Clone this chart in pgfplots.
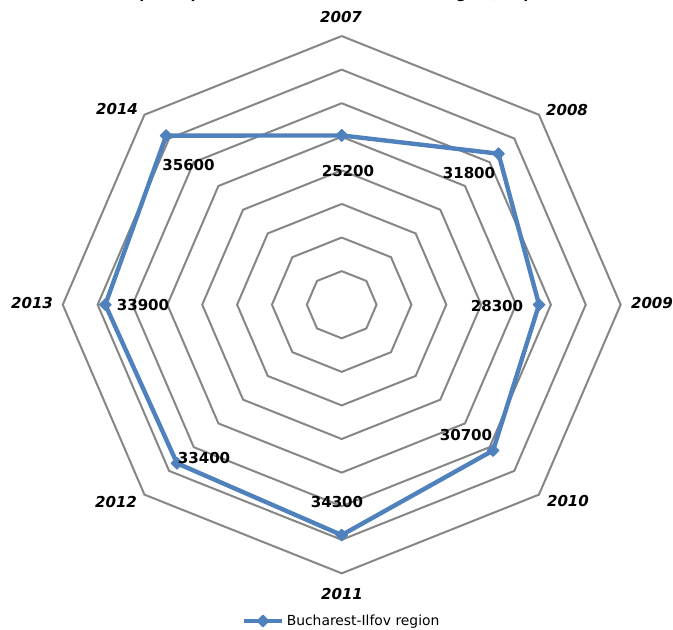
\documentclass[border=0pt]{standalone}
\usepackage{pgfplots}
\pgfplotsset{compat=1.18}
\usepackage{fontspec}
\setmainfont{DejaVu Sans}
\definecolor{series}{HTML}{4F81BD}
\definecolor{ring}{HTML}{868686}
\begin{document}
\begin{tikzpicture}
% all radii in thousands
\begin{axis}[
  scale only axis, width=504.75pt, height=472.5pt,
  xmin=-49.0, xmax=47.51, ymin=-48.437, ymax=45.37,
  hide axis, clip=false,
  legend style={draw=none, fill=none, at={(0.508,0.0143)}, anchor=center,
    font=\fontsize{10.4}{12}\selectfont},
  legend image code/.code={\draw[mark repeat=2,mark phase=2,#1] plot coordinates {(0pt,0pt) (14.25pt,0pt) (28.5pt,0pt)};},
]
% octagonal rings, every 5000
\pgfplotsinvokeforeach{5,10,...,40}{
  \addplot[ring, line width=1.5pt, mark=none, data cs=polar, forget plot]
    coordinates {(90,#1) (45,#1) (0,#1) (-45,#1) (-90,#1) (-135,#1) (180,#1) (135,#1) (90,#1)};
}
\addplot[series, line width=3.3pt, line join=round, data cs=polar,
  mark=square*, mark size=3.1pt, mark options={rotate=45, line width=0.8pt, fill=series}]
  coordinates {(90,25.2) (45,31.8) (0,28.3) (-45,30.7) (-90,34.3) (-135,33.4) (180,33.9) (135,35.6) (90,25.2)};
\addlegendentry{Bucharest-Ilfov region}
% value labels
\addplot[draw=none, mark=none, forget plot, nodes near coords, point meta=explicit symbolic,
  nodes near coords style={anchor=center, inner sep=0pt, font=\fontsize{11.3}{13}\selectfont\bfseries}]
  table[meta=label] {
x y label
0.900 19.910 25200
18.255 19.610 31800
22.270 -0.190 28300
17.825 -19.402 30700
-0.674 -29.378 34300
-19.746 -22.826 33400
-28.494 -0.045 33900
-21.969 20.801 35600
};
% category labels
\addplot[draw=none, mark=none, forget plot, nodes near coords, point meta=explicit symbolic,
  nodes near coords style={anchor=center, inner sep=0pt, font=\fontsize{11.3}{13}\selectfont\bfseries\itshape}]
  table[meta=label] {
x y label
-0.100 42.838 2007
32.308 28.991 2008
44.497 0.253 2009
32.451 -29.229 2010
0.043 -43.077 2011
-32.366 -29.378 2012
-44.411 0.253 2013
-32.222 29.140 2014
};
% title, cut off at the top edge as in the reference
\node[anchor=base west, inner sep=0pt, font=\fontsize{11}{13}\selectfont\bfseries]
  at (axis cs:-34.803,45.65) {GDP per capita (PPS) for Bucharest-Ilfov region, in percent};
\coordinate (BL) at (rel axis cs:0,0);
\coordinate (TR) at (rel axis cs:1,1);
\end{axis}
\pgfresetboundingbox
\useasboundingbox (BL) rectangle (TR);
\end{tikzpicture}
\end{document}
